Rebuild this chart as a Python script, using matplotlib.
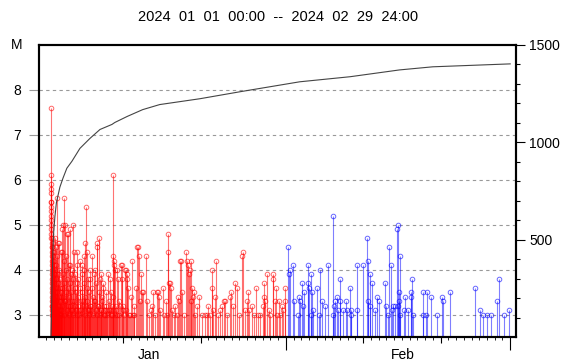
import numpy as np
import matplotlib
matplotlib.use('Agg')
import matplotlib.pyplot as plt
import matplotlib.transforms as mtransforms

plt.rcParams['font.family'] = ['Liberation Sans', 'DejaVu Sans']

# time in days since 2024-01-01 00:00, magnitude
jan_days = [0.67, 0.67, 0.67, 0.68, 0.68, 0.68, 0.69, 0.69, 0.69, 0.70,
            0.70, 0.70, 0.71, 0.71, 0.71, 0.72, 0.72, 0.72, 0.73, 0.73,
            0.73, 0.74, 0.74, 0.74, 0.75, 0.75, 0.75, 0.76, 0.76, 0.76,
            0.77, 0.77,
            0.78, 0.80, 0.85, 0.88, 0.90, 0.93, 0.95, 0.98, 1.00, 1.03,
            1.05, 1.08, 1.10, 1.12, 1.16, 1.18, 1.20, 1.23, 1.25, 1.29,
            1.30, 1.33, 1.36, 1.40, 1.42, 1.45, 1.48, 1.50, 1.55, 1.58,
            1.60, 1.63, 1.68, 1.70, 1.72, 1.75, 1.80, 1.85, 1.90, 1.94, 1.98,
            2.05, 2.07, 2.10, 2.15, 2.20, 2.25, 2.30, 2.33, 2.38, 2.45,
            2.50, 2.55, 2.58, 2.62, 2.71, 2.75, 2.80, 2.84, 2.90, 2.97,
            3.02, 3.10, 3.10, 3.15, 3.20, 3.25, 3.30, 3.36, 3.42, 3.49,
            3.55, 3.62, 3.70, 3.75, 3.80, 3.90, 4.01, 4.01, 4.06, 4.13,
            4.20, 4.26, 4.39, 4.45, 4.52, 4.60, 4.65, 4.72, 4.78, 4.91,
            4.91, 4.95, 5.04, 5.10, 5.17, 5.25, 5.30, 5.35, 5.43, 5.50,
            5.60, 5.68, 5.68, 5.80, 5.94, 6.00, 6.10, 6.20, 6.33, 6.40,
            6.50, 6.59, 6.60, 6.70, 6.85, 6.90, 6.98, 7.05, 7.11, 7.20,
            7.36, 7.36, 7.50, 7.60, 7.75, 7.88, 8.01, 8.10, 8.27, 8.27,
            8.40, 8.55, 8.66, 8.66, 8.70, 8.79, 8.80, 8.90, 9.00, 9.17,
            9.30, 9.40, 9.50,
            0.82, 0.87, 0.92, 0.97, 1.02, 1.07, 1.14, 1.22, 1.27, 1.38,
            1.52, 1.65, 1.78, 1.88, 2.00, 2.12, 2.28, 2.42, 2.66, 2.93,
            3.05, 3.33, 3.45, 3.58, 3.85, 3.95, 4.10, 4.33, 4.57, 4.85,
            5.00, 5.21, 5.39, 5.55, 5.75, 5.88, 6.05, 6.25, 6.45, 6.65,
            6.78, 7.00, 7.15, 7.28, 7.45, 7.68, 7.82, 7.95, 8.20, 8.35,
            8.48, 8.60, 8.95, 9.10, 9.24, 9.58, 9.90, 10.10, 10.40, 10.85,
            9.69, 9.82, 9.82, 10.00, 10.21, 10.34, 10.47, 10.47, 10.59, 10.70,
            10.98, 11.11, 11.24, 11.37, 11.37, 11.63, 11.76, 11.89, 12.02, 12.14,
            12.27, 12.40, 12.53, 12.92, 13.05, 13.30, 13.60, 13.70, 13.82, 14.10,
            14.34, 14.47, 14.60, 14.80, 15.12, 15.30, 15.50, 15.63, 15.76, 15.76,
            15.89, 16.02, 16.15, 16.28, 16.50, 16.67, 16.90, 17.05, 17.18,
            17.31, 17.44, 17.57, 17.80, 18.09, 18.22, 18.35, 18.48, 18.60, 18.73,
            18.73, 18.86, 18.99, 19.12, 19.30, 19.51, 19.77, 20.20, 20.50, 20.80,
            20.93, 21.20, 21.45, 21.45, 21.58, 21.83, 21.96, 22.20, 22.50, 22.74,
            23.00, 23.13,
            23.40, 23.77, 23.90, 24.16, 24.42, 24.68, 25.00, 25.32, 25.45, 25.70,
            25.97, 26.10, 26.23, 26.61, 26.90, 27.13, 27.40, 27.65, 28.04, 28.17,
            28.17, 28.29, 28.55, 28.81, 29.00, 29.33, 29.33, 29.59, 29.72, 29.84,
            30.10, 30.30, 30.49, 30.62, 30.88, 30.90]
jan_mags = [7.6, 6.1, 5.9, 5.8, 5.7, 5.5, 5.5, 5.4, 5.3, 5.2,
            5.1, 5.0, 4.9, 4.8, 4.7, 4.6, 4.5, 4.4, 4.3, 4.2,
            4.1, 4.0, 3.9, 3.8, 3.7, 3.6, 3.5, 3.4, 3.3, 3.2,
            3.1, 3.0,
            4.7, 4.5, 4.4, 4.2, 4.6, 4.0, 4.3, 3.9, 4.1, 3.8,
            4.4, 3.7, 4.2, 3.6, 4.7, 3.5, 4.0, 3.9, 3.4, 4.5,
            3.8, 3.3, 4.1, 3.6, 5.6, 3.5, 4.3, 3.2, 4.6, 3.7,
            3.9, 3.4, 4.6, 3.1, 4.0, 3.6, 3.8, 3.3, 4.4, 3.5, 3.0,
            4.4, 4.9, 3.6, 3.9, 5.0, 3.4, 4.2, 5.6, 3.7, 5.0,
            3.3, 4.3, 4.0, 3.5, 4.8, 3.8, 3.2, 4.8, 3.6, 4.1,
            3.4, 4.9, 4.1, 3.7, 3.1, 3.9, 3.5, 4.0, 3.3, 5.0,
            3.8, 4.4, 3.6, 3.9, 3.2, 3.5, 4.4, 4.1, 3.7, 3.8,
            3.4, 3.1, 4.2, 3.6, 3.3, 3.9, 4.1, 3.5, 3.2, 4.3,
            4.0, 3.7, 4.6, 3.4, 5.4, 3.6, 4.4, 3.3, 3.8, 3.1,
            3.5, 4.0, 3.8, 3.2, 4.3, 3.6, 3.4, 3.9, 4.0, 3.3,
            3.7, 4.6, 4.5, 3.2, 4.7, 3.5, 3.8, 3.1, 3.9, 3.4,
            3.7, 3.6, 3.2, 3.0, 3.5, 3.1, 3.9, 3.3, 3.8, 3.1,
            3.5, 3.0, 6.1, 4.3, 3.4, 4.2, 4.1, 4.0, 3.2, 4.0,
            3.8, 3.3, 3.0,
            3.2, 3.0, 3.3, 3.1, 3.4, 3.0, 3.2, 3.1, 3.3, 3.0,
            3.1, 3.2, 3.0, 3.4, 3.1, 3.2, 3.0, 3.3, 3.1, 3.0,
            3.2, 3.1, 3.0, 3.3, 3.1, 3.0, 3.2, 3.0, 3.1, 3.3,
            3.0, 3.2, 3.1, 3.0, 3.2, 3.1, 3.0, 3.3, 3.1, 3.0,
            3.2, 3.0, 3.1, 3.3, 3.0, 3.1, 3.2, 3.0, 3.1, 3.0,
            3.2, 3.1, 3.0, 3.1, 3.0, 3.2, 3.1, 3.0, 3.1, 3.0,
            4.1, 4.1, 3.8, 3.2, 4.0, 4.0, 3.8, 3.9, 3.6, 3.0,
            3.4, 4.2, 3.0, 3.2, 3.0, 3.6, 4.5, 4.5, 4.3, 3.3,
            3.9, 3.5, 3.5, 4.3, 3.3, 3.0, 3.1, 3.2, 3.5, 3.0,
            3.5, 3.5, 3.4, 3.1, 3.6, 3.0, 3.3, 3.0, 4.8, 4.4,
            3.7, 3.7, 3.6, 3.1, 3.0, 3.2, 3.0, 3.4, 3.3,
            4.2, 4.2, 3.5, 3.0, 4.4, 4.2, 4.1, 3.9, 4.0, 4.2,
            3.3, 3.6, 3.4, 3.5, 3.0, 3.2, 3.4, 3.0, 3.0, 3.0,
            3.2, 3.0, 4.0, 3.6, 3.1, 3.4, 4.2, 3.0, 3.1, 3.2,
            3.3, 3.3,
            3.0, 3.4, 3.5, 3.2, 3.7, 3.6, 3.0, 4.3, 4.4, 3.1,
            3.3, 3.5, 3.1, 3.2, 3.0, 3.6, 3.0, 3.0, 3.2, 3.4,
            3.7, 3.3, 3.9, 3.1, 3.0, 3.9, 3.8, 3.3, 3.6, 3.0,
            3.3, 3.0, 3.2, 3.1, 3.6, 3.3]

feb_days = [31.27, 31.40, 31.52, 31.91, 32.04, 32.56, 32.69, 32.82, 33.07, 33.20,
            33.33, 33.85, 33.85, 33.98, 34.24, 34.24, 34.37, 34.50, 35.01, 35.27,
            35.40, 35.66, 36.05, 36.43, 37.08, 37.08, 37.21, 37.34, 37.60, 37.73,
            37.98, 37.98, 38.37, 38.76, 38.89, 39.28, 39.41, 39.41, 40.18, 40.18,
            40.96, 41.47, 41.60, 41.60, 41.86, 41.86, 42.12, 42.51, 42.76, 43.02,
            43.80, 43.93, 44.19, 44.32, 44.57, 44.70, 44.83, 45.09, 45.35, 45.48,
            45.48, 45.61, 45.61, 45.74, 45.74, 46.25, 46.38, 46.77, 47.16, 47.16,
            47.29, 47.42, 48.71, 48.71, 49.10, 49.22, 49.74, 50.52, 51.16, 51.29,
            52.20, 55.43, 56.07, 56.46, 56.98, 57.49, 58.27, 58.53, 59.17, 59.82]
feb_mags = [4.5, 3.9, 4.0, 4.1, 3.3, 3.0, 3.4, 3.3, 3.7, 3.2,
            3.5, 4.1, 3.7, 3.6, 3.9, 3.0, 3.5, 3.1, 3.6, 3.0,
            4.0, 3.3, 3.2, 4.1, 5.2, 3.0, 3.2, 3.3, 3.4, 3.1,
            3.8, 3.3, 3.1, 3.3, 3.1, 3.6, 3.1, 3.0, 4.1, 3.1,
            4.1, 4.7, 4.2, 3.3, 3.9, 3.2, 3.7, 3.1, 3.4, 3.3,
            3.7, 3.2, 3.0, 4.5, 4.1, 3.1, 3.2, 3.2, 4.9, 5.0,
            3.2, 3.5, 3.3, 4.3, 3.0, 3.1, 3.4, 3.1, 3.4, 3.5,
            3.8, 3.0, 3.5, 3.0, 3.0, 3.5, 3.4, 3.0, 3.4, 3.3,
            3.5, 3.6, 3.1, 3.0, 3.0, 3.0, 3.3, 3.8, 3.0, 3.1]

# cumulative number of events (right axis)
cum_days = [0.65, 0.72, 0.80, 0.90, 1.00, 1.16, 1.35, 1.80, 2.20, 2.70,
            3.36, 4.39, 5.68, 6.98, 8.53, 8.90, 10.5, 12.5, 14.7, 17.3,
            19.9, 25.1, 32.8, 39.3, 45.7, 50.0, 60.0]
cum_count = [0, 120, 300, 450, 540, 620, 690, 770, 816, 867,
             903, 969, 1020, 1066, 1092, 1102, 1133, 1168, 1194, 1209,
             1224, 1260, 1311, 1337, 1372, 1388, 1403]

month_labels = ['Jan', 'Feb']
month_label_pos = [13.3, 46.1]
month_starts = [31, 60]
decade_days = [10, 20, 41, 51]

fig = plt.figure(figsize=(5.7, 3.61), dpi=100)
ax = fig.add_axes([39 / 570, 1 - 337 / 361, 477 / 570, 292 / 361])

ax.set_xlim(-0.9, 60.75)
ax.set_ylim(2.5, 9)

# stems + open circles
ax.vlines(jan_days, 2.5, jan_mags, colors='red', alpha=0.55, lw=0.8)
ax.plot(jan_days, jan_mags, 'o', ms=3.3, mfc='none', mec='red', mew=0.7, alpha=0.6)
ax.vlines(feb_days, 2.5, feb_mags, colors='blue', alpha=0.5, lw=0.8)
ax.plot(feb_days, feb_mags, 'o', ms=3.3, mfc='none', mec='blue', mew=0.7, alpha=0.6)

ax.set_yticks(range(3, 9))
ax.grid(axis='y', linestyle=(0, (3, 3)), color='#999999', lw=0.8)
ax.tick_params(axis='y', length=7.2, width=0.8, color='#999999', pad=5.5, labelsize=10)

ax.set_xticks(month_starts)
ax.set_xticklabels([])
ax.set_xticks(np.arange(0, 61), minor=True)
ax.tick_params(axis='x', which='major', length=9.4, width=0.8)
ax.tick_params(axis='x', which='minor', length=2.2, width=0.6)

sec = ax.secondary_xaxis('bottom')
sec.set_xticks(decade_days)
sec.tick_params(length=4.5, width=0.8, labelbottom=False)
sec.spines['bottom'].set_visible(False)

trans = mtransforms.blended_transform_factory(ax.transData, ax.transAxes)
for lab, pos in zip(month_labels, month_label_pos):
    ax.text(pos, -0.062, lab, transform=trans, ha='center', va='center', fontsize=10)

# cumulative count
ax2 = ax.twinx()
ax2.plot(cum_days, cum_count, color='#444444', lw=0.8)
ax2.set_ylim(0, 1500)
ax2.set_yticks([500, 1000, 1500])
ax2.set_yticks(np.arange(100, 1500, 100), minor=True)
ax2.tick_params(axis='y', which='major', length=6.5, width=0.8, pad=3, labelsize=10)
ax2.tick_params(axis='y', which='minor', length=2.8, width=0.8)

for a in (ax, ax2):
    for s in a.spines.values():
        s.set_linewidth(1.5)
        s.set_color('black')

fig.text(17 / 570, 1 - 45 / 361, 'M', ha='center', va='center', fontsize=10)
fig.text(0.488, 1 - 17 / 361, '2024  01  01  00:00  --  2024  02  29  24:00',
         ha='center', va='center', fontsize=10.5)

fig.savefig('out.png', dpi=100)
